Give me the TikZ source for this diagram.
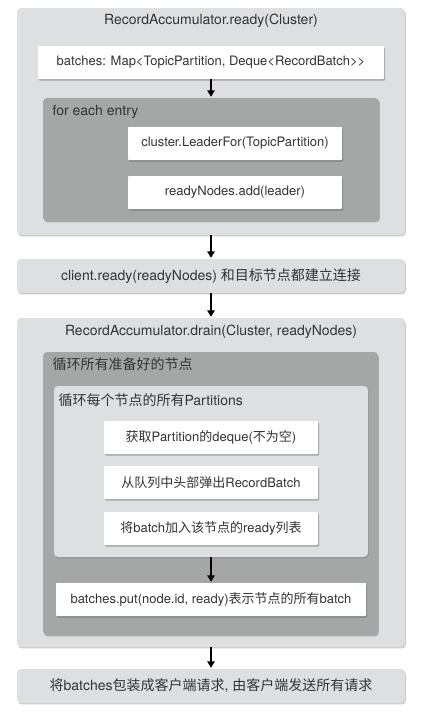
\documentclass[tikz,border=0pt]{standalone}
\usepackage{fontspec}
\setmainfont{TeX Gyre Heros}
\newfontfamily\cjk{Noto Sans CJK SC}
\usetikzlibrary{arrows.meta,shadows}

\definecolor{boxlight}{HTML}{DEDFE1}
\definecolor{boxdark}{HTML}{A5A7A6}
\definecolor{inktext}{HTML}{333333}

\tikzset{
  group/.style={fill=boxlight, rounded corners=4pt, inner sep=0pt,
    drop shadow={shadow xshift=0.8pt, shadow yshift=-1.4pt, opacity=0.35, fill=black!60}},
  loopbox/.style={fill=boxdark, rounded corners=4pt, inner sep=0pt,
    drop shadow={shadow xshift=0.8pt, shadow yshift=-1.4pt, opacity=0.35, fill=black!70}},
  stepbox/.style={fill=white, rounded corners=0.8pt, inner sep=0pt,
    drop shadow={shadow xshift=1pt, shadow yshift=-1.5pt, opacity=0.4, fill=black!70}},
  flow/.style={line width=1.4pt, -{Triangle[width=7.5pt,length=6.5pt]}, shorten >=1pt},
  txt/.style={text=inktext, font=\fontsize{13}{15}\selectfont},
  bigtxt/.style={text=inktext, font=\fontsize{14}{16}\selectfont},
}

\begin{document}
\begin{tikzpicture}[x=1pt,y=-1pt]
	\useasboundingbox (0,0) rectangle (423,715);

	%ready()
	\node[group, minimum width=388, minimum height=227] (ready) at (211,121.5) {};
	\node[bigtxt] (readytitle) at (211,21) {RecordAccumulator.ready(Cluster)};
	\node[stepbox, txt, minimum width=346, minimum height=33] (map) at (211,62.5) {batches: Map<TopicPartition, Deque<RecordBatch>{}>};
	\node[loopbox, minimum width=336, minimum height=123] (entry) at (211,159.5) {};
	\node[bigtxt, anchor=west] (entrylabel) at (49,112) {for each entry};
	\node[stepbox, txt, minimum width=214, minimum height=33] (leader) at (235,143.5) {cluster.LeaderFor(TopicPartition)};
	\node[stepbox, txt, minimum width=214, minimum height=33] (add) at (235,192.5) {readyNodes.add(leader)};

	%client
	\node[group, bigtxt, minimum width=388, minimum height=34] (client) at (211,276) {client.ready(readyNodes) {\cjk 和目标节点都建立连接}};

	%drain()
	\node[group, minimum width=388, minimum height=329] (drain) at (211,482.5) {};
	\node[bigtxt] (draintitle) at (211,332) {RecordAccumulator.drain(Cluster, readyNodes)};
	\node[loopbox, minimum width=335, minimum height=283] (nodes) at (210.5,493.5) {};
	\node[bigtxt, anchor=west] (nodeslabel) at (49,364) {\cjk 循环所有准备好的节点};
	\node[group, minimum width=314, minimum height=171] (parts) at (211,471.5) {};
	\node[bigtxt, anchor=west] (partslabel) at (55,400) {{\cjk 循环每个节点的所有}Partitions};
	\node[stepbox, txt, minimum width=214, minimum height=33] (deque) at (211,437.5) {{\cjk 获取}Partition{\cjk 的}deque({\cjk 不为空})};
	\node[stepbox, txt, minimum width=214, minimum height=33] (pop) at (211,482.5) {{\cjk 从队列中头部弹出}RecordBatch};
	\node[stepbox, txt, minimum width=214, minimum height=33] (append) at (211,528.5) {{\cjk 将}batch{\cjk 加入该节点的}ready{\cjk 列表}};
	\node[stepbox, txt, minimum width=310, minimum height=33] (put) at (211,599.5) {batches.put(node.id, ready){\cjk 表示节点的所有}batch};

	%send
	\node[group, bigtxt, minimum width=388, minimum height=34] (send) at (211,686) {{\cjk 将}batches{\cjk 包装成客户端请求}, {\cjk 由客户端发送所有请求}};

	%arrows
	\draw[flow] (map.south) -- (entry.north);
	\draw[flow] (ready.south) -- (client.north);
	\draw[flow] (client.south) -- (drain.north);
	\draw[flow] (parts.south) -- (put.north);
	\draw[flow] (drain.south) -- (send.north);
\end{tikzpicture}
\end{document}
